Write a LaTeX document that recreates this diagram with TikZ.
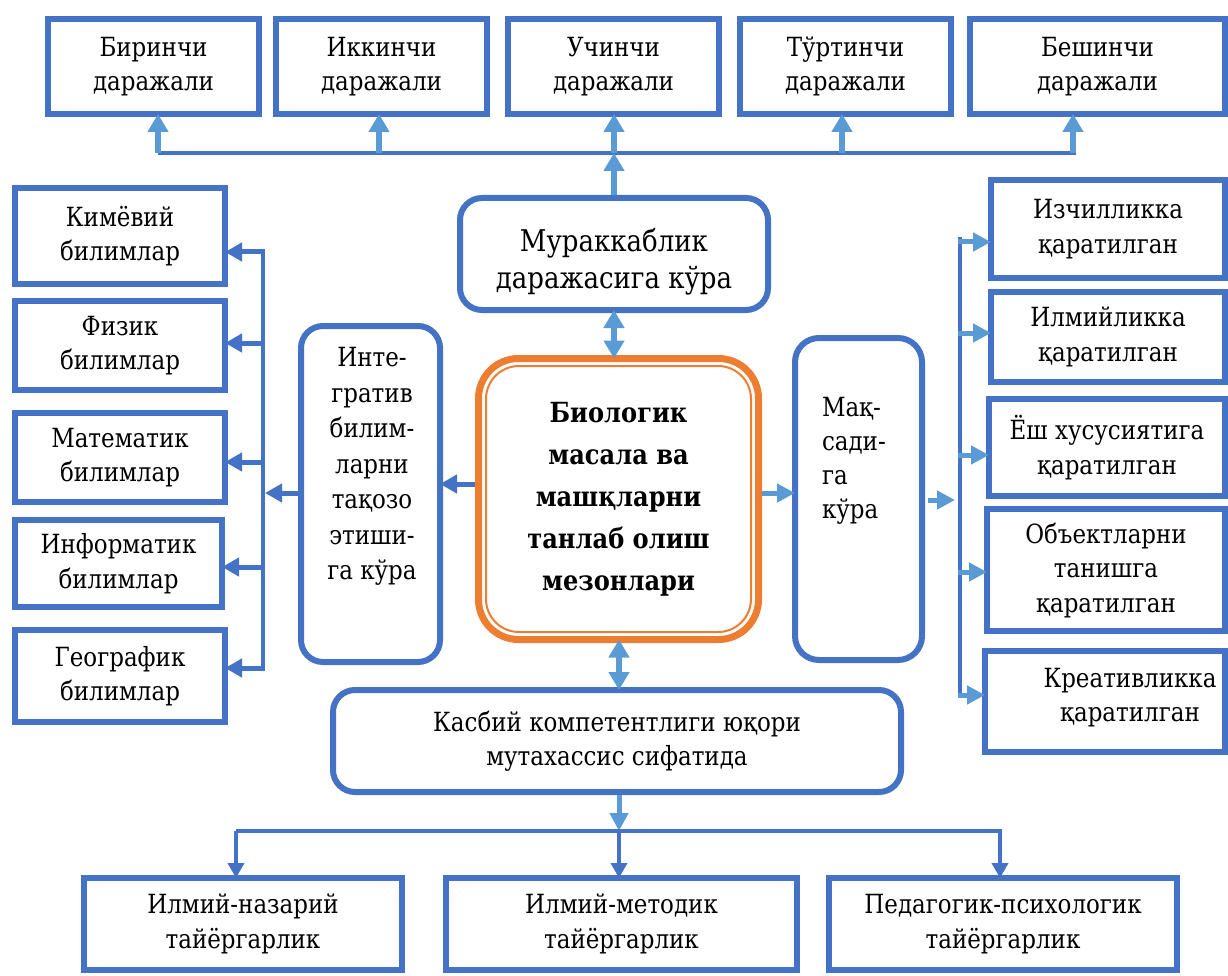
\documentclass[tikz,border=0pt]{standalone}
\usepackage{fontspec}
\setmainfont{DejaVu Serif}[Scale=0.88, FakeStretch=0.87]
\usetikzlibrary{arrows.meta}
\definecolor{dblue}{HTML}{4472C4}
\definecolor{lblue}{HTML}{5B9BD5}
\definecolor{orng}{HTML}{ED7D31}
\begin{document}
\begin{tikzpicture}[x=1pt,y=-1pt,
  sq/.style={draw=dblue, line width=6pt, inner sep=0pt, outer sep=0pt,
    font=\fontsize{30}{34.5}\selectfont, align=center},
  rb/.style={sq, rounded corners=22pt},
  txt/.style={inner sep=0pt, outer sep=0pt, font=\fontsize{30}{34.5}\selectfont, align=center},
  la/.style={draw=lblue, line width=6pt, -{Triangle[length=18pt,width=20pt]}},
  lab/.style={draw=lblue, line width=6pt, {Triangle[length=18pt,width=20pt]}-{Triangle[length=18pt,width=20pt]}},
  lsm/.style={draw=lblue, line width=5pt, -{Triangle[length=18pt,width=18pt]}},
  da/.style={draw=dblue, line width=5pt, -{Triangle[length=17pt,width=18pt]}},
  ddn/.style={draw=dblue, line width=4pt, -{Triangle[length=15pt,width=16pt]}},
  dline/.style={draw=dblue, line width=4pt},
]
\useasboundingbox (0,0) rectangle (1228,976);

% top row
\node[sq, minimum width=211pt, minimum height=95pt] (b1) at (153.5,66.5) {Биринчи\\даражали};
\node[sq, minimum width=211pt, minimum height=95pt] (b2) at (381.5,66.5) {Иккинчи\\даражали};
\node[sq, minimum width=211pt, minimum height=95pt] (b3) at (613.5,66.5) {Учинчи\\даражали};
\node[sq, minimum width=211pt, minimum height=95pt] (b4) at (845.5,66.5) {Тўртинчи\\даражали};
\node[sq, minimum width=255pt, minimum height=95pt] (b5) at (1097.5,66.5) {Бешинчи\\даражали};

% left column
\node[sq, minimum width=210pt, minimum height=96pt] (k1) at (120,236) {Кимёвий\\билимлар};
\node[sq, minimum width=210pt, minimum height=89pt] (k2) at (120,345.5) {Физик\\билимлар};
\node[sq, minimum width=210pt, minimum height=89pt] (k3) at (120,457.5) {Математик\\билимлар};
\node[sq, minimum width=207pt, minimum height=87pt] (k4) at (118.5,563.5) {Информатик\\билимлар};
\node[sq, minimum width=210pt, minimum height=92pt] (k5) at (120,676) {Географик\\билимлар};

% right column
\node[sq, minimum width=234pt, minimum height=98pt] (r1) at (1108,229) {Изчилликка\\қаратилган};
\node[sq, minimum width=234pt, minimum height=90pt] (r2) at (1108,337) {Илмийликка\\қаратилган};
\node[sq, minimum width=236pt, minimum height=97pt] (r3) at (1107,447.5) {Ёш хусусиятига\\қаратилган};
\node[sq, minimum width=238pt, minimum height=122pt] (r4) at (1106,570) {Объектларни\\танишга\\қаратилган};
\node[sq, minimum width=240pt, minimum height=101pt] (r5) at (1105,701.5) {};
\node[txt] (r5t) at (1130,697.5) {Креативликка\\қаратилган};

% middle
\node[rb, minimum width=308pt, minimum height=112pt] (mur) at (614,254) {};
\node[txt, font=\fontsize{34}{37}\selectfont] (murt) at (614,261.5) {Мураккаблик\\даражасига кўра};
\node[rb, minimum width=139pt, minimum height=336pt] (integ) at (370.5,494) {};
\node[txt, font=\fontsize{30}{35.5}\selectfont] (integt) at (372,466.5) {Инте-\\гратив\\билим-\\ларни\\тақозо\\этиши-\\га кўра};
\node[rb, rounded corners=24pt, minimum width=127pt, minimum height=322pt] (maq) at (858.5,499) {};
\node[txt, anchor=west, align=left, font=\fontsize{30}{34}\selectfont] (maqt) at (822,460.5) {Мақ-\\сади-\\га\\кўра};
\node[draw=orng, line width=7pt, rounded corners=40pt, inner sep=0pt, outer sep=0pt,
  minimum width=280pt, minimum height=281pt, align=center,
  font=\bfseries\fontsize{31.5}{42}\selectfont] (cen) at (618.5,499)
  {Биологик\\масала ва\\машқларни\\танлаб олиш\\мезонлари};
\draw[orng, line width=2pt, rounded corners=33pt]
  ([shift={(7.5,7.5)}]cen.north west) rectangle ([shift={(-7.5,-7.5)}]cen.south east);
\node[rb, minimum width=568pt, minimum height=102pt] (kas) at (617,741) {Касбий компетентлиги юқори\\мутахассис сифатида};

% bottom row
\node[sq, minimum width=318pt, minimum height=92pt] (naz) at (243,924) {Илмий-назарий\\тайёргарлик};
\node[sq, minimum width=351pt, minimum height=92pt] (met) at (621.5,924) {Илмий-методик\\тайёргарлик};
\node[sq, minimum width=348pt, minimum height=92pt] (ped) at (1003,924) {Педагогик-психологик\\тайёргарлик};

% top connectors
\coordinate (h1) at (158,153);
\coordinate (h2) at (379,153);
\coordinate (h3) at (614,153);
\coordinate (h4) at (842,153);
\coordinate (h5) at (1073,153);
\coordinate (hR) at (1076,153);
\draw[dline, line width=3.5pt] (h1) -- (hR);
\draw[la] (h1) -- (h1 |- b1.south);
\draw[la] (h2) -- (h2 |- b2.south);
\draw[la] (h3) -- (h3 |- b3.south);
\draw[la] (h4) -- (h4 |- b4.south);
\draw[la] (h5) -- (h5 |- b5.south);
\draw[la, shorten <=3pt] (mur.north) -- (h3);

% double arrows
\draw[lab] (mur.south) -- (mur.south |- cen.north);
\coordinate (cb) at (619,643);
\draw[lab] (cb |- cen.south) -- (cb |- kas.north);

% centre to sides
\coordinate (yl) at (0,484);
\draw[da, shorten <=3.5pt] (cen.west |- yl) -- (integ.east |- yl);
\coordinate (yr) at (0,493);
\draw[lsm, shorten <=3.5pt] (cen.east |- yr) -- (maq.west |- yr);

% left bus
\coordinate (lv) at (265,493);
\coordinate (lvT) at (263,252);
\coordinate (lvB) at (263,670);
\draw[da, shorten <=3pt] (integ.west |- lv) -- (lv);
\draw[dline] (lvT) -- (lvB);
\coordinate (l1) at (265,252);
\coordinate (l2) at (265,343);
\coordinate (l3) at (265,462);
\coordinate (l4) at (265,567);
\coordinate (l5) at (265,668);
\draw[da] (l1) -- (l1 -| k1.east);
\draw[da] (l2) -- (l2 -| k2.east);
\draw[da] (l3) -- (l3 -| k3.east);
\draw[da] (l4) -- (l4 -| k4.east);
\draw[da] (l5) -- (l5 -| k5.east);

% right bus
\coordinate (rv) at (955,500);
\draw[lsm, shorten <=6pt] (maq.east |- rv) -- (rv);
\coordinate (rvT) at (960,237);
\coordinate (rvB) at (960,698);
\draw[dline] (rvT) -- (rvB);
\coordinate (q1) at (958,242);
\coordinate (q2) at (958,333);
\coordinate (q3) at (958,455);
\coordinate (q4) at (958,572);
\coordinate (q5) at (958,695);
\draw[lsm] (q1) -- (q1 -| r1.west);
\draw[lsm] (q2) -- (q2 -| r2.west);
\draw[lsm] (q3) -- (q3 -| r3.west);
\draw[lsm] (q4) -- (q4 -| r4.west);
\draw[lsm] (q5) -- (q5 -| r5.west);

% bottom bus
\coordinate (bm) at (619,831);
\coordinate (bl) at (236,831);
\coordinate (br) at (1000,831);
\draw[lsm, shorten <=3pt] (kas.south -| bm) -- (bm);
\draw[dline] (bl) -- ([xshift=2pt]br);
\draw[ddn] (bl) -- (bl |- naz.north);
\draw[ddn] (bm) -- (bm |- met.north);
\draw[ddn] (br) -- (br |- ped.north);
\end{tikzpicture}
\end{document}
